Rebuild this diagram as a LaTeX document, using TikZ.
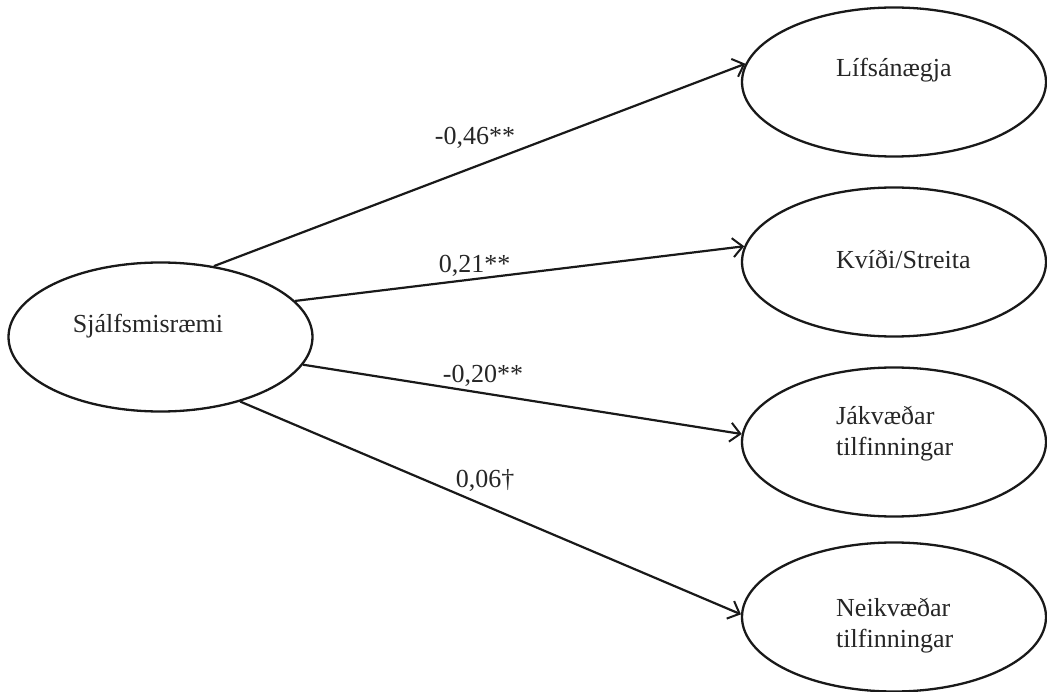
\documentclass[tikz,border=0pt]{standalone}
\usepackage{fontspec}
\setmainfont{Liberation Serif}
\usetikzlibrary{shapes.geometric,arrows.meta}
\tikzset{
  var/.style={draw=black!90, line width=2.3pt, ellipse, minimum width=304pt, minimum height=149pt, inner sep=0pt},
  txt/.style={inner sep=0pt, font=\fontsize{26}{30.5}\selectfont, text=black!85, align=left},
  coef/.style={inner sep=0pt, font=\fontsize{26}{30.5}\selectfont, text=black!85, anchor=base},
  path/.style={draw=black!90, line width=2.2pt, -{Straight Barb[length=10pt,width=19pt,line width=2pt]}}
}
\begin{document}
\begin{tikzpicture}[x=1pt,y=-1pt]
\useasboundingbox (0,0) rectangle (1047,692);
% ellipses
\node[var] (S) at (160.5,337) {};
\node[var] (L) at (894,82) {};
\node[var] (K) at (894,262) {};
\node[var] (J) at (894,442) {};
\node[var] (N) at (894,617) {};
% texts
\node[txt, anchor=base] (tS) at (148,333) {Sjálfsmisræmi};
\node[txt, anchor=base west] (tL) at (836,77) {Lífsánægja};
\node[txt, anchor=base west] (tK) at (836,269) {Kvíði/Streita};
\node[txt, anchor=north west] (tJ) at (836,406) {Jákvæðar\\tilfinningar};
\node[txt, anchor=north west] (tN) at (836,598) {Neikvæðar\\tilfinningar};
% paths
\draw[path] (S.53) -- (L.173.6);
\draw[path] (S.15.7) -- (K.174.4);
\draw[path] (S.-11.2) -- (J.177.4);
\draw[path] (S.-39.7) -- (N.179);
% coefficients
\node[coef] (c1) at (475,145) {-0,46**};
\node[coef] (c2) at (474.5,273) {0,21**};
\node[coef] (c3) at (483,383) {-0,20**};
\node[coef] (c4) at (485,487) {0,06†};
\end{tikzpicture}
\end{document}
